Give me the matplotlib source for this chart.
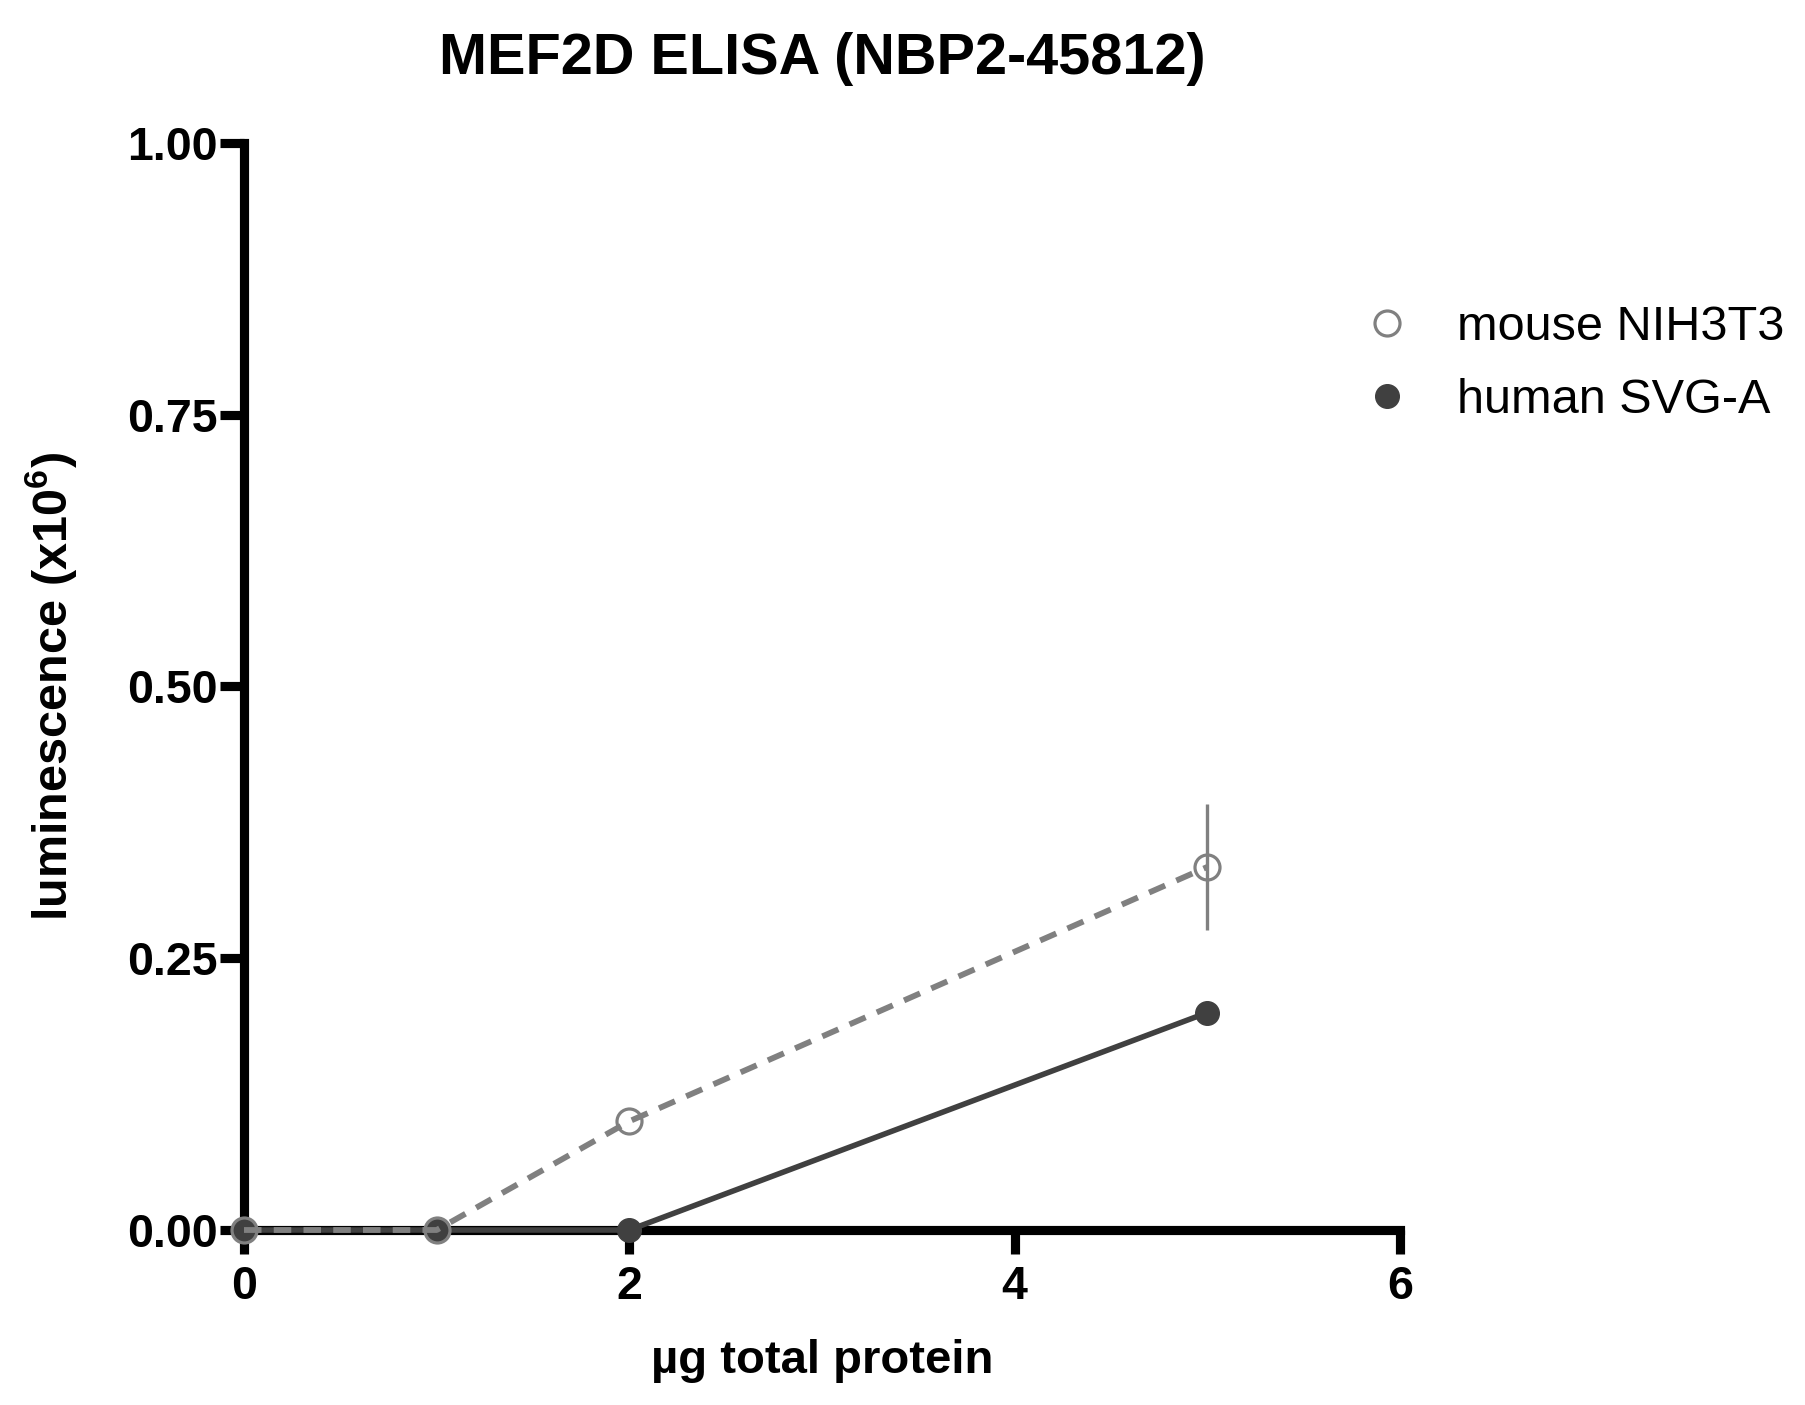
import matplotlib
matplotlib.use("Agg")
import matplotlib.pyplot as plt
from matplotlib.lines import Line2D
from matplotlib.ticker import FormatStrFormatter

plt.rcParams['font.family'] = ['Liberation Sans', 'DejaVu Sans']
plt.rcParams['mathtext.fontset'] = 'custom'
plt.rcParams['mathtext.bf'] = 'Liberation Sans:bold'
plt.rcParams['mathtext.rm'] = 'Liberation Sans:bold'

# ---- data ----
protein_ug = [0, 1, 2, 5]
mouse_nih3t3 = [0.0, 0.0, 0.10, 0.334]
mouse_err = [0.0, 0.0, 0.0, 0.058]
human_svga = [0.0, 0.0, 0.0, 0.200]
series_labels = ["mouse NIH3T3", "human SVG-A"]
x_ticks = [0, 2, 4, 6]
y_ticks = [0.0, 0.25, 0.50, 0.75, 1.00]
title = "MEF2D ELISA (NBP2-45812)"
x_label = "µg total protein"
y_label = r"luminescence (x10$^{\mathbf{6}}$)"

c_mouse = "#808080"
c_human = "#404040"

fig = plt.figure(figsize=(18.05, 14.05), dpi=100)
ax = fig.add_axes([244/1805, 1-1230/1405, (1400-244)/1805, (1230-143)/1405])

# human (drawn first, underneath)
ax.plot(protein_ug, human_svga, color=c_human, lw=4.0, marker='o', ms=17,
        mfc=c_human, mec=c_human, clip_on=False, zorder=5)
# mouse
ax.errorbar(protein_ug, mouse_nih3t3, yerr=mouse_err, fmt='none', ecolor=c_mouse,
            elinewidth=2.4, capsize=0, clip_on=False, zorder=6)
ax.plot(protein_ug, mouse_nih3t3, color=c_mouse, lw=4.2, ls=(0, (3.0, 2.1)),
        marker='o', ms=18, mfc='none', mec=c_mouse, mew=2.3, clip_on=False, zorder=7)

ax.set_xlim(0, 6)
ax.set_ylim(0, 1)
ax.set_xticks(x_ticks)
ax.set_yticks(y_ticks)
ax.yaxis.set_major_formatter(FormatStrFormatter('%.2f'))

for s in ['top', 'right']:
    ax.spines[s].set_visible(False)
for s in ['left', 'bottom']:
    ax.spines[s].set_linewidth(6.6)
    ax.spines[s].set_color('black')
    ax.spines[s].set_zorder(3)

ax.tick_params(axis='both', direction='out', length=17, width=6.6, color='black',
               labelsize=33.5)
ax.tick_params(axis='y', pad=2)
ax.tick_params(axis='x', pad=8)
for lab in ax.get_xticklabels() + ax.get_yticklabels():
    lab.set_fontweight('bold')

ax.set_xlabel(x_label, fontsize=34, fontweight='bold', labelpad=22)
ax.set_ylabel(y_label, fontsize=35, fontweight='bold', labelpad=34)
ax.set_title(title, fontsize=41.5, fontweight='bold', pad=50)

handles = [
    Line2D([], [], ls='none', marker='o', ms=18, mfc='none', mec=c_mouse, mew=2.3),
    Line2D([], [], ls='none', marker='o', ms=17, mfc=c_human, mec=c_human),
]
ax.legend(handles, series_labels, loc='center left',
          bbox_to_anchor=(1362.7/1805, 1-364/1405), bbox_transform=fig.transFigure,
          frameon=False, fontsize=35, handlelength=1.0, handletextpad=0.94,
          labelspacing=0.56, borderpad=0, borderaxespad=0)

fig.savefig("out.png", dpi=100)
